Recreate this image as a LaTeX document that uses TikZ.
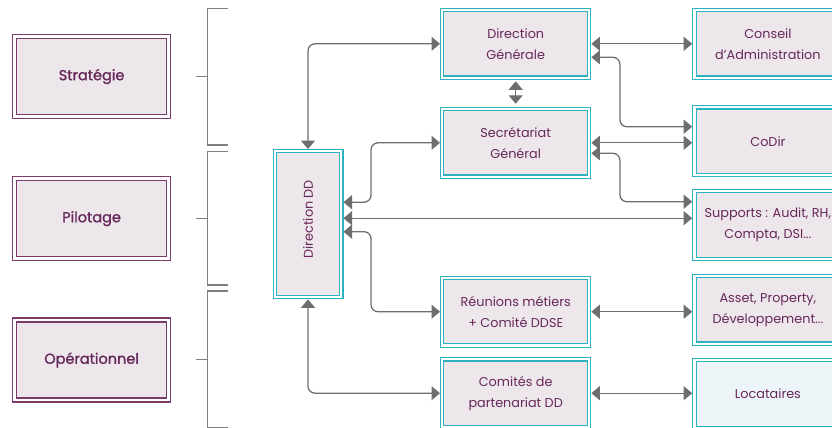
\documentclass[tikz,border=0pt]{standalone}
\usepackage{fontspec}
\usepackage{graphicx}
\setmainfont{Poppins}
\newfontfamily\levelfont[FakeBold=1.2]{Poppins}
\usetikzlibrary{arrows.meta}
\definecolor{txtcol}{HTML}{66285A}
\definecolor{plum}{HTML}{7A3B6A}
\definecolor{boxfill}{HTML}{EDE6EB}
\definecolor{cyanline}{HTML}{2BB3C0}
\definecolor{tenantfill}{HTML}{EEF5F8}
\definecolor{arrgray}{HTML}{6E6E6E}
\definecolor{bracketgray}{HTML}{808080}
\begin{document}
\begin{tikzpicture}[x=1pt,y=-1pt,
  levelbox/.style={draw=plum, double=white, double distance=2.8pt, line width=1.2pt,
    fill=boxfill, text=txtcol, minimum width=154pt, minimum height=80pt,
    font=\levelfont\fontsize{14.5}{16}\selectfont, outer sep=2.5pt},
  unitbox/.style={draw=cyanline, double=white, double distance=2.2pt, line width=1.1pt,
    fill=boxfill, text=txtcol, minimum width=147pt, minimum height=67.7pt,
    align=center, font=\fontsize{12.8}{21}\selectfont, inner sep=2pt, outer sep=2.2pt},
  arr/.style={draw=arrgray, line width=1.3pt, rounded corners=7pt,
    {Triangle[length=8.5pt,width=14pt]}-{Triangle[length=8.5pt,width=14pt]}},
  bracket/.style={draw=bracketgray, line width=1.2pt}]
\clip (0,0) rectangle (832,428);

% levels
\node[levelbox] (strat) at (91.6,76.5) {Stratégie};
\node[levelbox] (pil) at (91.6,218.7) {Pilotage};
\node[levelbox] (oper) at (91.6,360) {Opérationnel};

% brackets grouping each level
\draw[bracket] (228,8.3) -- (207.3,8.3) -- (207.3,145) -- (228,145);
\draw[bracket] (196,76.7) -- (207.3,76.7);
\draw[bracket] (228,151.7) -- (207.3,151.7) -- (207.3,285) -- (228,285);
\draw[bracket] (196,218.3) -- (207.3,218.3);
\draw[bracket] (228,291) -- (207.3,291) -- (207.3,427.3) -- (228,427.3);
\draw[bracket] (196,359.7) -- (207.3,359.7);

% central unit
\node[unitbox, minimum width=66.6pt, minimum height=145.9pt] (dd) at (308,224.2)
  {\rotatebox{90}{\hspace{10pt}Direction DD}};

% middle column
\node[unitbox] (dg) at (515.7,43.8) {Direction\\Générale};
\node[unitbox] (sg) at (515.7,142.8) {Secrétariat\\Général};
\node[unitbox] (reu) at (515.7,311.7) {Réunions métiers\\+ Comité DDSE};
\node[unitbox] (com) at (515.7,393.2) {Comités de\\partenariat DD};

% right column
\node[unitbox] (cons) at (767.9,43.8) {Conseil\\d’Administration};
\node[unitbox] (codir) at (767.9,141.2) {CoDir};
\node[unitbox] (sup) at (767.9,225) {Supports : Audit, RH,\\Compta, DSI...};
\node[unitbox] (asset) at (767.9,309.8) {Asset, Property,\\Développement...};
\node[unitbox, fill=tenantfill] (loc) at (767.9,394) {Locataires};

% helper points on box sides
\coordinate (ddA) at ([yshift=22pt]dd.east);
\coordinate (ddB) at ([yshift=6pt]dd.east);
\coordinate (ddC) at ([yshift=-7.5pt]dd.east);
\coordinate (dgB) at ([yshift=-13.5pt]dg.east);
\coordinate (codirA) at ([yshift=14.5pt]codir.west);
\coordinate (sgB) at ([yshift=-10.5pt]sg.east);
\coordinate (supA) at ([yshift=23.3pt]sup.west);

% connectors from Direction DD
\draw[arr] (dd.north) |- (dg.west);
\draw[arr] (ddA) -- ++(27.5,0) |- (sg.west);
\draw[arr] (ddB) -- (ddB -| sup.west);
\draw[arr] (ddC) -- ++(27.5,0) |- (reu.west);
\draw[arr] (dd.south) |- (com.west);

% between the middle boxes
\draw[arr, shorten <=1.5pt, shorten >=3pt] (dg.south) -- (sg.north);

% middle to right column
\draw[arr] (dg.east) -- (cons.west);
\draw[arr] (dgB) -- ++(28.5,0) |- (codirA);
\draw[arr] (sg.east) -- (sg.east -| codir.west);
\draw[arr] (sgB) -- ++(28.5,0) |- (supA);
\draw[arr] (reu.east) -- (reu.east -| asset.west);
\draw[arr] (com.east) -- (com.east -| loc.west);
\end{tikzpicture}
\end{document}
